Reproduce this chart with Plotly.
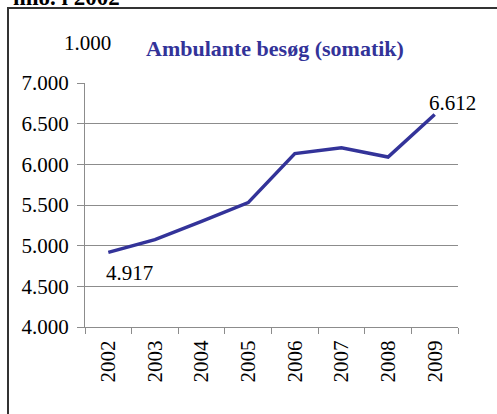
import plotly.graph_objects as go

years = ["2002", "2003", "2004", "2005", "2006", "2007", "2008", "2009"]
visits = [4917, 5075, 5300, 5529, 6132, 6205, 6090, 6612]
y_ticks = [4000, 4500, 5000, 5500, 6000, 6500, 7000]
y_tick_text = ["4.000", "4.500", "5.000", "5.500", "6.000", "6.500", "7.000"]
title_text = "Ambulante besøg (somatik)"
unit_text = "1.000"
top_text = "mio. i 2002"

W, H = 497, 414
L, R, T, B = 85, 39, 83, 87
pw, ph = W - L - R, H - T - B

def px(x):
    return (x - L) / pw

def py(y):
    return (H - B - y) / ph

def fmt(v):
    return f"{v:,}".replace(",", ".")

serif = "Liberation Serif, Times New Roman, serif"
line_col = "#333399"
grid_col = "#8c8c8c"

fig = go.Figure()
fig.add_trace(go.Scatter(
    x=years, y=visits, mode="lines",
    line=dict(color=line_col, width=3.5),
    hoverinfo="skip", showlegend=False,
))

annotations = [
    dict(text=title_text, x=px(275), y=py(48), xref="paper", yref="paper",
         showarrow=False, xanchor="center", yanchor="middle",
         font=dict(family=serif, size=22, color=line_col, weight="bold")),
    dict(text=unit_text, x=px(87), y=py(43), xref="paper", yref="paper",
         showarrow=False, xanchor="center", yanchor="middle",
         font=dict(family=serif, size=21, color="black")),
    dict(text=top_text, x=px(11), y=py(-2), xref="paper", yref="paper",
         showarrow=False, xanchor="left", yanchor="middle",
         font=dict(family=serif, size=23, color="black", weight="bold")),
    dict(text=fmt(visits[0]), x=0, y=visits[0],
         xref="x", yref="y", showarrow=False, xanchor="center", yanchor="middle",
         xshift=21, yshift=-21, font=dict(family=serif, size=21, color="black")),
    dict(text=fmt(visits[-1]), x=len(years) - 1, y=visits[-1],
         xref="x", yref="y", showarrow=False, xanchor="center", yanchor="middle",
         xshift=18, yshift=12, font=dict(family=serif, size=21, color="black")),
]

shapes = [
    dict(type="rect", xref="paper", yref="paper",
         x0=px(8), x1=px(W + 20), y0=py(H + 20), y1=py(8),
         line=dict(color="#333333", width=2), fillcolor="rgba(0,0,0,0)", layer="below"),
]

fig.update_layout(
    width=W, height=H,
    margin=dict(l=L, r=R, t=T, b=B, pad=0),
    paper_bgcolor="white", plot_bgcolor="white",
    annotations=annotations, shapes=shapes,
    font=dict(family=serif, size=21, color="black"),
    xaxis=dict(type="category", tickson="boundaries", range=[-0.5, 7.5],
               showline=True, linecolor=grid_col, linewidth=1,
               ticks="outside", ticklen=6, tickcolor=grid_col,
               tickangle=-90, showgrid=False, zeroline=False,
               tickfont=dict(family=serif, size=21, color="black"),
               ticklabelstandoff=4, automargin=False),
    yaxis=dict(range=[4000, 7000], tickvals=y_ticks, ticktext=y_tick_text,
               showline=True, linecolor=grid_col, linewidth=1,
               ticks="outside", ticklen=7, tickcolor=grid_col,
               showgrid=True, gridcolor=grid_col, gridwidth=1, zeroline=False,
               tickfont=dict(family=serif, size=21, color="black"),
               ticklabelstandoff=4, automargin=False),
)

fig.write_html("out.html", config={"displayModeBar": False},
               post_script="document.body.style.margin='0';")
